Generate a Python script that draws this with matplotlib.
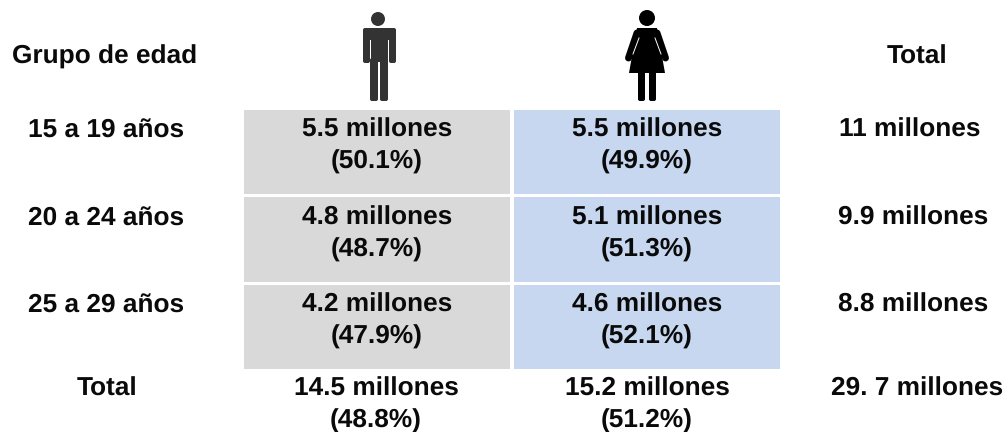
import matplotlib
matplotlib.use('Agg')
import matplotlib.pyplot as plt
from matplotlib.patches import Rectangle, Circle, Polygon, FancyBboxPatch

plt.rcParams['font.family'] = ['Liberation Sans', 'DejaVu Sans']
plt.rcParams['text.hinting'] = 'none'

# datos de la tabla
grupos = ['15 a 19 años', '20 a 24 años', '25 a 29 años']
hombres = ['5.5 millones\n(50.1%)', '4.8 millones\n(48.7%)', '4.2 millones\n(47.9%)']
mujeres = ['5.5 millones\n(49.9%)', '5.1 millones\n(51.3%)', '4.6 millones\n(52.1%)']
totales = ['11 millones', '9.9 millones', '8.8 millones']
total_hombres = '14.5 millones\n(48.8%)'
total_mujeres = '15.2 millones\n(51.2%)'
total_general = '29. 7 millones'

# geometria en pixeles
fila_top = [110, 197, 285]
fila_bot = [194, 282, 369]
fila_txt = [127, 215, 302]
x_total = [910, 913, 913]
GRIS = '#d9d9d9'
AZUL = '#c6d7ef'
FS = 18.9

fig = plt.figure(figsize=(10.07, 4.32), dpi=100)
ax = fig.add_axes([0, 0, 1, 1])
ax.set_xlim(0, 1007)
ax.set_ylim(432, 0)
ax.axis('off')


def caja(x0, y0, x1, y1, color):
    ax.add_patch(FancyBboxPatch((x0 + 2, y0 + 2), x1 - x0 - 4, y1 - y0 - 4,
                                boxstyle='round,pad=2,rounding_size=2',
                                fc=color, ec='none'))


def texto(x, y, s):
    # y es la linea de centro de la primera linea de texto
    ax.text(x, y - 9.5, s, ha='center', va='top', fontsize=FS,
            fontweight='bold', color='#0a0a0a', linespacing=1.41)


for i in range(3):
    ax.add_patch(Rectangle((244, fila_top[i]), 266, fila_bot[i] - fila_top[i], fc=GRIS, ec='none'))
    ax.add_patch(Rectangle((514, fila_top[i]), 266, fila_bot[i] - fila_top[i], fc=AZUL, ec='none'))
    texto(106, fila_txt[i], grupos[i])
    texto(377, fila_txt[i], hombres[i])
    texto(647, fila_txt[i], mujeres[i])
    texto(x_total[i], fila_txt[i], totales[i])

texto(105, 54, 'Grupo de edad')
texto(917, 54, 'Total')
texto(107, 386, 'Total')
texto(376, 386, total_hombres)
texto(647, 386, total_mujeres)
texto(917, 386, total_general)

# icono hombre
C_H = '#333333'
ax.add_patch(Circle((378, 19), 7, fc=C_H, ec='none'))
caja(363, 28, 396, 40, C_H)
caja(363, 30, 370, 63, C_H)
caja(389, 30, 396, 63, C_H)
caja(371, 30, 388, 62, C_H)
caja(370, 58, 378, 101, C_H)
caja(380, 58, 388, 101, C_H)

# icono mujer
C_M = '#000000'
ax.add_patch(Circle((647, 18), 8, fc=C_M, ec='none'))
ax.add_patch(Polygon([(637, 28), (657, 28), (665, 73), (629, 73)], fc=C_M, ec='none'))
ax.plot([637, 628.5], [33, 58], color=C_M, lw=5, solid_capstyle='round')
ax.plot([657, 665.5], [33, 58], color=C_M, lw=5, solid_capstyle='round')
ax.plot([639, 633], [38, 54], color='white', lw=0.7)
ax.plot([655, 661], [38, 54], color='white', lw=0.7)
caja(638, 70, 645, 101, C_M)
caja(649, 70, 656, 101, C_M)

fig.savefig('out.png', dpi=100, facecolor='white')
